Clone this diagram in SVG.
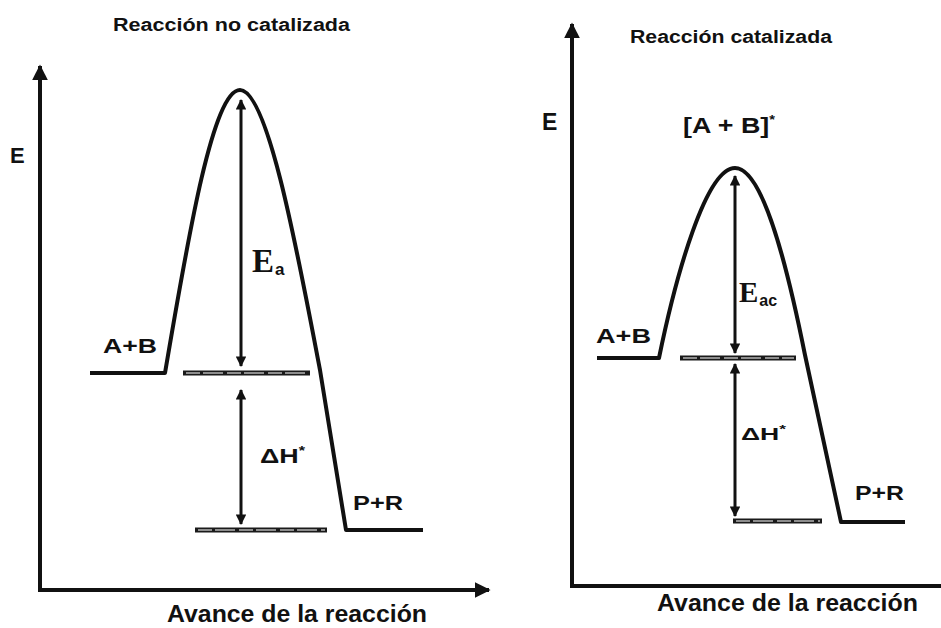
<svg xmlns="http://www.w3.org/2000/svg" width="941" height="628" viewBox="0 0 941 628">
<style>
.t{font-family:"Liberation Sans",Arimo,sans-serif;font-weight:bold;fill:#111}
.s{font-family:"Liberation Serif","DejaVu Serif",serif;font-weight:bold;fill:#111}
.axis{stroke:#111;stroke-width:4;fill:none}
.curve{stroke:#111;stroke-width:4;fill:none;stroke-linejoin:round}
.lvl{stroke:#1a1a1a;stroke-width:5;fill:none}
.lvlin{stroke:#fff;stroke-width:1.2;fill:none;stroke-dasharray:14 3 20 4}
.arr{stroke:#111;stroke-width:3;fill:none}
</style>
<defs>
<marker id="ah" viewBox="0 0 10 10" refX="9" refY="5" markerWidth="4" markerHeight="4" orient="auto-start-reverse" markerUnits="strokeWidth">
<path d="M0,0 L10,5 L0,10 z" fill="#111"/>
</marker>
<marker id="sh" viewBox="0 0 10 10" refX="9" refY="5" markerWidth="4.5" markerHeight="3.5" orient="auto-start-reverse" markerUnits="strokeWidth">
<path d="M0,0 L10,5 L0,10 z" fill="#111"/>
</marker>
</defs>
<rect width="941" height="628" fill="#fff"/>

<g id="left-panel">
<text class="t" x="113" y="31" font-size="18" textLength="237" lengthAdjust="spacingAndGlyphs">Reacción no catalizada</text>
<text class="t" x="10" y="163" font-size="22">E</text>
<text class="t" x="103" y="353" font-size="21" textLength="54" lengthAdjust="spacingAndGlyphs">A+B</text>
<text class="t" x="353" y="510" font-size="21" textLength="50" lengthAdjust="spacingAndGlyphs">P+R</text>
<text class="t" x="260" y="463" font-size="20" textLength="45" lengthAdjust="spacingAndGlyphs">ΔH<tspan font-size="12" dy="-8">*</tspan></text>
<text class="s" x="252" y="272" font-size="33">E<tspan font-family="Liberation Sans,sans-serif" font-size="17" dx="1" dy="3">a</tspan></text>
<text class="t" x="167" y="622" font-size="23" textLength="260" lengthAdjust="spacingAndGlyphs">Avance de la reacción</text>
</g>

<g id="right-panel">
<text class="t" x="630" y="43" font-size="18" textLength="202" lengthAdjust="spacingAndGlyphs">Reacción catalizada</text>
<text class="t" x="542" y="130" font-size="23">E</text>
<text class="t" x="683" y="133" font-size="22" textLength="92" lengthAdjust="spacingAndGlyphs">[A + B]<tspan font-size="12" dy="-9">*</tspan></text>
<text class="t" x="596" y="343" font-size="21" textLength="55" lengthAdjust="spacingAndGlyphs">A+B</text>
<text class="t" x="855" y="500" font-size="21" textLength="49" lengthAdjust="spacingAndGlyphs">P+R</text>
<text class="t" x="741" y="440" font-size="17" textLength="45" lengthAdjust="spacingAndGlyphs">ΔH<tspan font-size="11" dy="-7">*</tspan></text>
<text class="s" x="739" y="302" font-size="29">E<tspan font-family="Liberation Sans,sans-serif" font-size="16" dx="1" dy="4">ac</tspan></text>
<text class="t" x="657" y="611" font-size="23" textLength="261" lengthAdjust="spacingAndGlyphs">Avance de la reacción</text>
</g>

<g id="connectors">
<path class="axis" d="M40,590 V66" marker-end="url(#ah)"/>
<path class="axis" d="M38,590 H489" marker-end="url(#ah)"/>
<path class="curve" d="M90,373 H165 C186,250 212,90 240,90 C268,90 298,255 320,370 L346,530 H423"/>
<path class="lvl" d="M183,373 H310 M195,530 H327"/>
<path class="lvlin" d="M186,373 H308 M198,530 H325"/>
<path class="arr" d="M241,100 V366" marker-start="url(#sh)" marker-end="url(#sh)"/>
<path class="arr" d="M241,390 V524" marker-start="url(#sh)" marker-end="url(#sh)"/>

<path class="axis" d="M572,587 V24" marker-end="url(#ah)"/>
<path class="axis" d="M570,586 H941"/>
<path class="curve" d="M597,358 H659 C676,275 706,168 735,168 C764,168 789,275 805,355 L841,522 H905"/>
<path class="lvl" d="M680,358 H796 M733,521 H822"/>
<path class="lvlin" d="M683,358 H794 M736,521 H820"/>
<path class="arr" d="M735,176 V353" marker-start="url(#sh)" marker-end="url(#sh)"/>
<path class="arr" d="M735,364 V516" marker-start="url(#sh)" marker-end="url(#sh)"/>
</g>
</svg>
